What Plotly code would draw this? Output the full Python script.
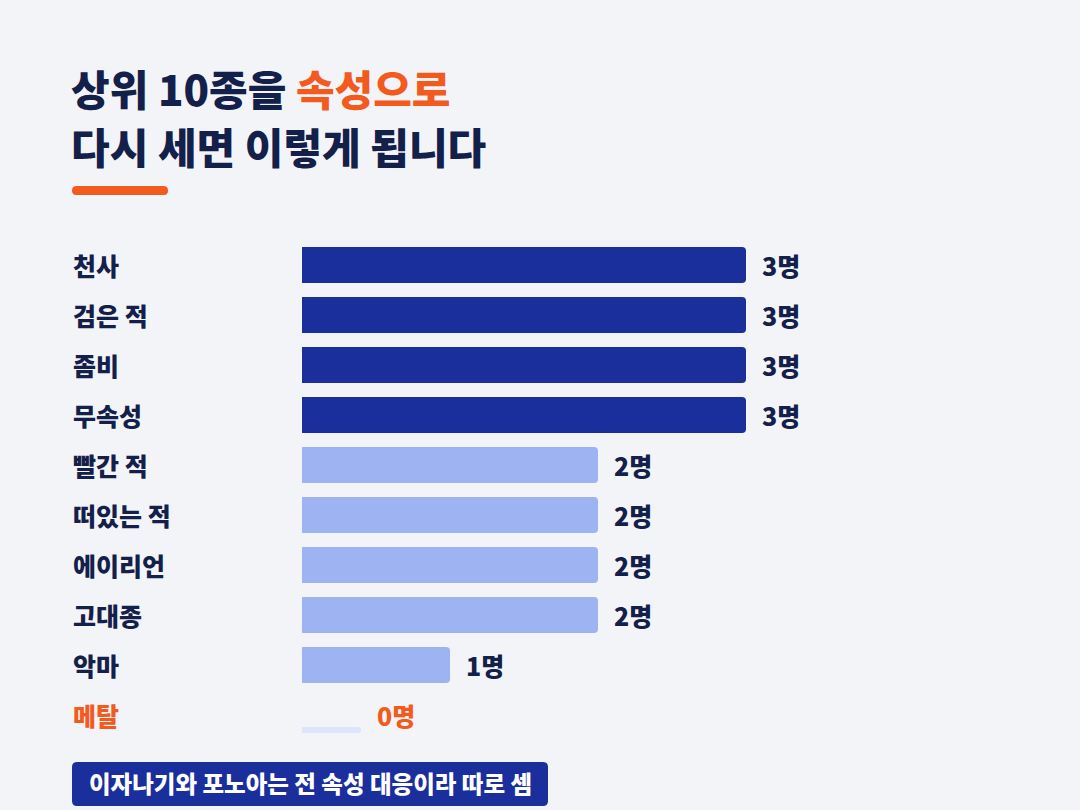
import plotly.graph_objects as go

W, H = 1080, 810

# data
attributes = ["천사", "검은 적", "좀비", "무속성", "빨간 적", "떠있는 적", "에이리언", "고대종", "악마", "메탈"]
counts = [3, 3, 3, 3, 2, 2, 2, 2, 1, 0]
unit = "명"
title_line1 = "상위 10종을 "
title_accent = "속성으로"
title_line2 = "다시 세면 이렇게 됩니다"
note = "이자나기와 포노아는 전 속성 대응이라 따로 셈"

# style
BG = "#F3F4F8"
NAVY_TEXT = "#13204A"
DARK_BAR = "#1A2E9C"
LIGHT_BAR = "#9EB3F2"
STUB_BAR = "#DCE5FA"
ORANGE = "#F25A1E"
FONT = "Noto Sans CJK KR"
STUB = 0.4  # placeholder length for zero bars


def px(x):
    return x / W


def py(y):
    return 1 - y / H


def round_rect(x0, y0, x1, y1, r):
    return (
        f"M {px(x0 + r)},{py(y0)} L {px(x1 - r)},{py(y0)} "
        f"Q {px(x1)},{py(y0)} {px(x1)},{py(y0 + r)} L {px(x1)},{py(y1 - r)} "
        f"Q {px(x1)},{py(y1)} {px(x1 - r)},{py(y1)} L {px(x0 + r)},{py(y1)} "
        f"Q {px(x0)},{py(y1)} {px(x0)},{py(y1 - r)} L {px(x0)},{py(y0 + r)} "
        f"Q {px(x0)},{py(y0)} {px(x0 + r)},{py(y0)} Z"
    )


top = max(counts)
bar_colors = [DARK_BAR if c == top else LIGHT_BAR for c in counts]

fig = go.Figure()
fig.add_trace(go.Bar(
    x=counts, y=attributes, orientation="h", width=0.72,
    marker=dict(color=bar_colors, cornerradius=4, line=dict(width=0)),
    hoverinfo="skip", showlegend=False,
))
fig.add_trace(go.Bar(
    x=[STUB if c == 0 else None for c in counts], y=attributes, orientation="h",
    width=0.12, offset=0.24,
    marker=dict(color=STUB_BAR, cornerradius=3, line=dict(width=0)),
    hoverinfo="skip", showlegend=False,
))

annotations = []
for name, c in zip(attributes, counts):
    col = ORANGE if c == 0 else NAVY_TEXT
    annotations.append(dict(
        xref="paper", yref="y", x=px(71), y=name, text=name, showarrow=False,
        xanchor="left", yanchor="middle",
        font=dict(family=FONT, size=25, color=col, weight=800),
    ))
    annotations.append(dict(
        xref="x", yref="y", x=max(c, STUB), y=name, text=f"{c}{unit}", showarrow=False,
        xanchor="left", yanchor="middle", xshift=14,
        font=dict(family=FONT, size=25, color=col, weight=800),
    ))

annotations += [
    dict(xref="paper", yref="paper", x=px(69), y=py(88),
         text=f"{title_line1}<span style='color:{ORANGE}'>{title_accent}</span>",
         showarrow=False, xanchor="left", yanchor="middle",
         font=dict(family=FONT, size=42, color=NAVY_TEXT, weight=900)),
    dict(xref="paper", yref="paper", x=px(69), y=py(145), text=title_line2,
         showarrow=False, xanchor="left", yanchor="middle",
         font=dict(family=FONT, size=42, color=NAVY_TEXT, weight=900)),
    dict(xref="paper", yref="paper", x=px(310), y=py(783), text=note,
         showarrow=False, xanchor="center", yanchor="middle",
         font=dict(family=FONT, size=23.5, color="white", weight=800)),
]

shapes = [
    dict(type="path", xref="paper", yref="paper", path=round_rect(72, 186, 168, 195, 4.5),
         fillcolor=ORANGE, line=dict(width=0), layer="below"),
    dict(type="path", xref="paper", yref="paper", path=round_rect(72, 762, 548, 806, 5),
         fillcolor=DARK_BAR, line=dict(width=0), layer="below"),
]

fig.update_layout(
    width=W, height=H,
    margin=dict(l=0, r=0, t=0, b=0, pad=0),
    paper_bgcolor=BG, plot_bgcolor=BG,
    barmode="overlay",
    hovermode=False,
    xaxis=dict(range=[0, 3.5], domain=[px(302), px(820)], visible=False, fixedrange=True),
    yaxis=dict(type="category", categoryorder="array", categoryarray=attributes,
               range=[len(attributes) - 0.5, -0.5], domain=[py(740), py(240)],
               visible=False, fixedrange=True),
    annotations=annotations,
    shapes=shapes,
)

fig.write_html(
    "out.html",
    config={"displayModeBar": False},
    post_script=f"document.body.style.margin='0';document.body.style.background='{BG}';",
)
